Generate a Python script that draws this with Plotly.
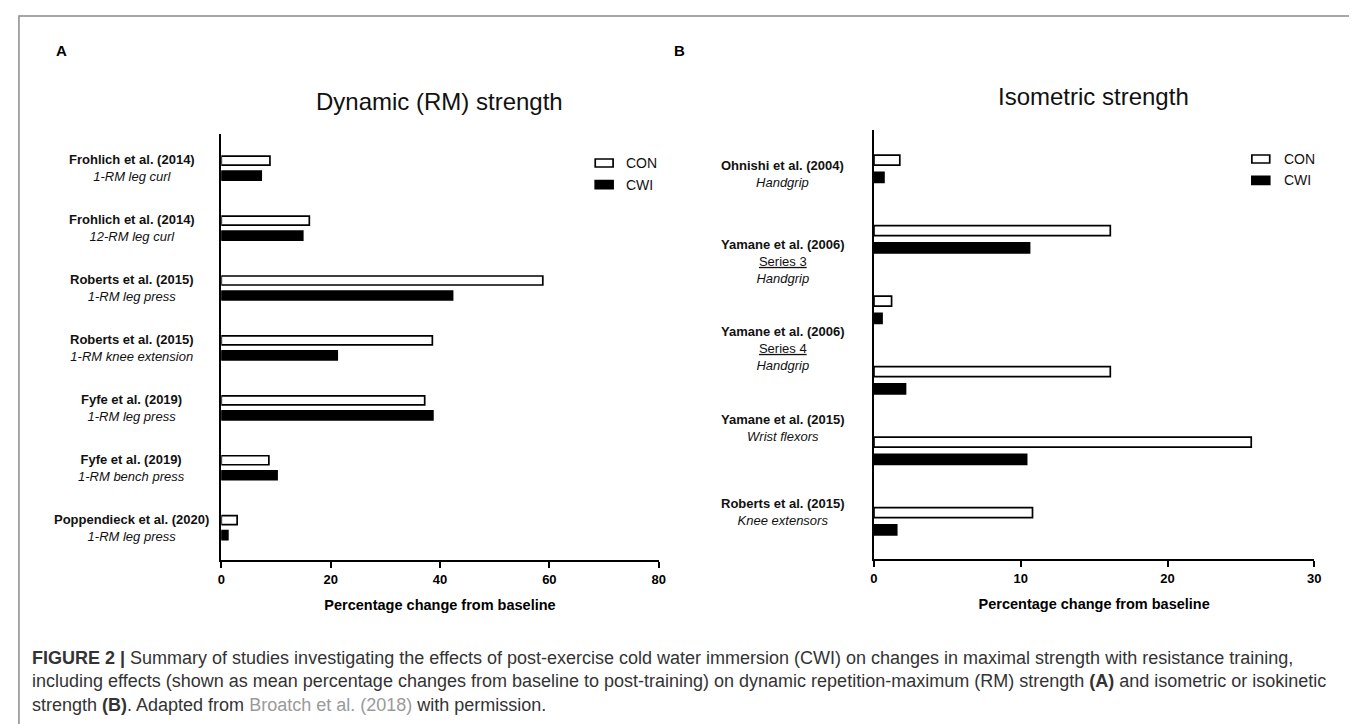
import plotly.graph_objects as go

W, H = 1357, 724

# ---------------- data ----------------
# Panel A: dynamic (RM) strength
rows_a = ["Frohlich 2014 | 1-RM leg curl", "Frohlich 2014 | 12-RM leg curl",
          "Roberts 2015 | 1-RM leg press", "Roberts 2015 | 1-RM knee extension",
          "Fyfe 2019 | 1-RM leg press", "Fyfe 2019 | 1-RM bench press",
          "Poppendieck 2020 | 1-RM leg press"]
studies_a = ["Frohlich et al. (2014)", "Frohlich et al. (2014)", "Roberts et al. (2015)",
             "Roberts et al. (2015)", "Fyfe et al. (2019)", "Fyfe et al. (2019)",
             "Poppendieck et al. (2020)"]
measures_a = ["1-RM leg curl", "12-RM leg curl", "1-RM leg press", "1-RM knee extension",
              "1-RM leg press", "1-RM bench press", "1-RM leg press"]
con_a = [8.9, 16.1, 58.8, 38.6, 37.2, 8.7, 2.9]
cwi_a = [7.3, 14.9, 42.3, 21.2, 38.7, 10.2, 1.2]
ticks_a = [0, 20, 40, 60, 80]

# Panel B: isometric strength
rows_b = ["Ohnishi 2004", "Yamane 2006 a", "Yamane 2006 b", "Yamane 2006 c",
          "Yamane 2015", "Roberts 2015"]
con_b = [1.76, 16.1, 1.2, 16.1, 25.7, 10.8]
cwi_b = [0.68, 10.6, 0.55, 2.15, 10.4, 1.55]
labels_b = [
    "<b>Ohnishi et al. (2004)</b><br><i>Handgrip</i>",
    "<b>Yamane et al. (2006)</b><br><u>Series 3</u><br><i>Handgrip</i>",
    "<b>Yamane et al. (2006)</b><br><u>Series 4</u><br><i>Handgrip</i>",
    "<b>Yamane et al. (2015)</b><br><i>Wrist flexors</i>",
    "<b>Roberts et al. (2015)</b><br><i>Knee extensors</i>",
]
ticks_b = [0, 10, 20, 30]

# label placement (layout only) for panel B, in row-index units
label_pos_b = [0.08, 1.32, 2.55, 3.68, 4.87]

FONT = "Liberation Sans, Arial, Helvetica, sans-serif"


def px(x):
    return x / W


def py(y):
    return 1 - y / H


fig = go.Figure()

# ---- panel A bars ----
fig.add_trace(go.Bar(y=rows_a, x=con_a, orientation="h", name="CON",
                     marker=dict(color="white", line=dict(color="black", width=1.7)),
                     offset=-0.2, width=0.15, xaxis="x", yaxis="y", showlegend=False))
fig.add_trace(go.Bar(y=rows_a, x=cwi_a, orientation="h", name="CWI",
                     marker=dict(color="black", line=dict(color="black", width=1.7)),
                     offset=0.05, width=0.15, xaxis="x", yaxis="y", showlegend=False))
# ---- panel B bars ----
fig.add_trace(go.Bar(y=rows_b, x=con_b, orientation="h", name="CON",
                     marker=dict(color="white", line=dict(color="black", width=1.7)),
                     offset=-0.194, width=0.142, xaxis="x2", yaxis="y2", showlegend=False))
fig.add_trace(go.Bar(y=rows_b, x=cwi_b, orientation="h", name="CWI",
                     marker=dict(color="black", line=dict(color="black", width=1.7)),
                     offset=0.052, width=0.142, xaxis="x2", yaxis="y2", showlegend=False))

xaxis_common = dict(showline=True, linecolor="black", linewidth=2, ticks="outside",
                    ticklen=6, tickwidth=2, tickcolor="black", showgrid=False,
                    zeroline=False, tickfont=dict(family=FONT, size=13, color="black", weight="bold"),
                    title=dict(font=dict(family=FONT, size=14.5, color="black", weight="bold"),
                               standoff=14))
yaxis_common = dict(showline=True, linecolor="black", linewidth=2, ticks="",
                    showticklabels=False, showgrid=False, zeroline=False, type="category")

annotations = []
# panel A labels
for i, (s, m) in enumerate(zip(studies_a, measures_a)):
    annotations.append(dict(x=px(120.5), y=i, xref="paper", yref="y",
                            text=f"<b>{s}</b><br><i>{m}</i>", showarrow=False,
                            align="center", xanchor="center", yanchor="middle",
                            font=dict(family=FONT, size=13, color="#111")))
# panel B labels
for lab, pos in zip(labels_b, label_pos_b):
    annotations.append(dict(x=px(777), y=pos, xref="paper", yref="y2",
                            text=lab, showarrow=False,
                            align="center", xanchor="center", yanchor="middle",
                            font=dict(family=FONT, size=13, color="#111")))

# titles
annotations += [
    dict(x=px(431), y=py(94), xref="paper", yref="paper", text="Dynamic (RM) strength",
         showarrow=False, xanchor="center", yanchor="middle",
         font=dict(family=FONT, size=24, color="#111")),
    dict(x=px(1090), y=py(88), xref="paper", yref="paper", text="Isometric strength",
         showarrow=False, xanchor="center", yanchor="middle",
         font=dict(family=FONT, size=24, color="#111")),
    dict(x=px(50), y=py(42.5), xref="paper", yref="paper", text="<b>A</b>",
         showarrow=False, xanchor="center", yanchor="middle",
         font=dict(family=FONT, size=15, color="black")),
    dict(x=px(673), y=py(42.5), xref="paper", yref="paper", text="<b>B</b>",
         showarrow=False, xanchor="center", yanchor="middle",
         font=dict(family=FONT, size=15, color="black")),
]

# legends (manual)
shapes = []
for (bx, by_con, by_cwi, tx) in [(588, 155, 176.7, 617), (1250, 151, 172.3, 1280)]:
    shapes.append(dict(type="rect", xref="paper", yref="paper",
                       x0=px(bx), x1=px(bx + 18), y0=py(by_con + 4), y1=py(by_con - 4),
                       line=dict(color="black", width=1.7), fillcolor="white"))
    shapes.append(dict(type="rect", xref="paper", yref="paper",
                       x0=px(bx), x1=px(bx + 18), y0=py(by_cwi + 4), y1=py(by_cwi - 4),
                       line=dict(color="black", width=1.7), fillcolor="black"))
    annotations.append(dict(x=px(tx), y=py(by_con), xref="paper", yref="paper", text="CON",
                            showarrow=False, xanchor="left", yanchor="middle",
                            font=dict(family=FONT, size=14, color="#111")))
    annotations.append(dict(x=px(tx), y=py(by_cwi), xref="paper", yref="paper", text="CWI",
                            showarrow=False, xanchor="left", yanchor="middle",
                            font=dict(family=FONT, size=14, color="#111")))

# outer frame
shapes.append(dict(type="path", xref="paper", yref="paper",
                   path=f"M {px(7)},{py(724)} L {px(7)},{py(8)} L {px(1354)},{py(8)} L {px(1354)},{py(724)}",
                   line=dict(color="#8a8a8a", width=1.5)))

# caption
caption = ("<b>FIGURE 2 |</b> Summary of studies investigating the effects of post-exercise cold water "
           "immersion (CWI) on changes in maximal strength with resistance training,<br>"
           "including effects (shown as mean percentage changes from baseline to post-training) on "
           "dynamic repetition-maximum (RM) strength <b>(A)</b> and isometric or isokinetic<br>"
           "strength <b>(B)</b>. Adapted from <span style='color:#9a9a9a'>Broatch et al. (2018)</span> "
           "with permission.")
annotations.append(dict(x=px(18), y=py(673), xref="paper", yref="paper", text=caption,
                        showarrow=False, xanchor="left", yanchor="middle", align="left",
                        font=dict(family=FONT, size=18, color="#333")))

fig.update_layout(
    width=W, height=H, margin=dict(l=0, r=0, t=0, b=0),
    paper_bgcolor="white", plot_bgcolor="white", barmode="overlay",
    font=dict(family=FONT, color="black"),
    xaxis=dict(xaxis_common, domain=[px(211), px(652)], range=[0, 80], tickvals=ticks_a,
               anchor="y", title_text="Percentage change from baseline"),
    yaxis=dict(yaxis_common, domain=[py(552), py(126)], range=[6.54, -0.57], anchor="x",
               categoryorder="array", categoryarray=rows_a),
    xaxis2=dict(xaxis_common, domain=[px(869), px(1313)], range=[0, 30], tickvals=ticks_b,
                anchor="y2", title_text="Percentage change from baseline"),
    yaxis2=dict(yaxis_common, domain=[py(551), py(122)], range=[5.535, -0.55], anchor="x2",
                categoryorder="array", categoryarray=rows_b),
    annotations=annotations, shapes=shapes,
)

fig.write_html("out.html")
